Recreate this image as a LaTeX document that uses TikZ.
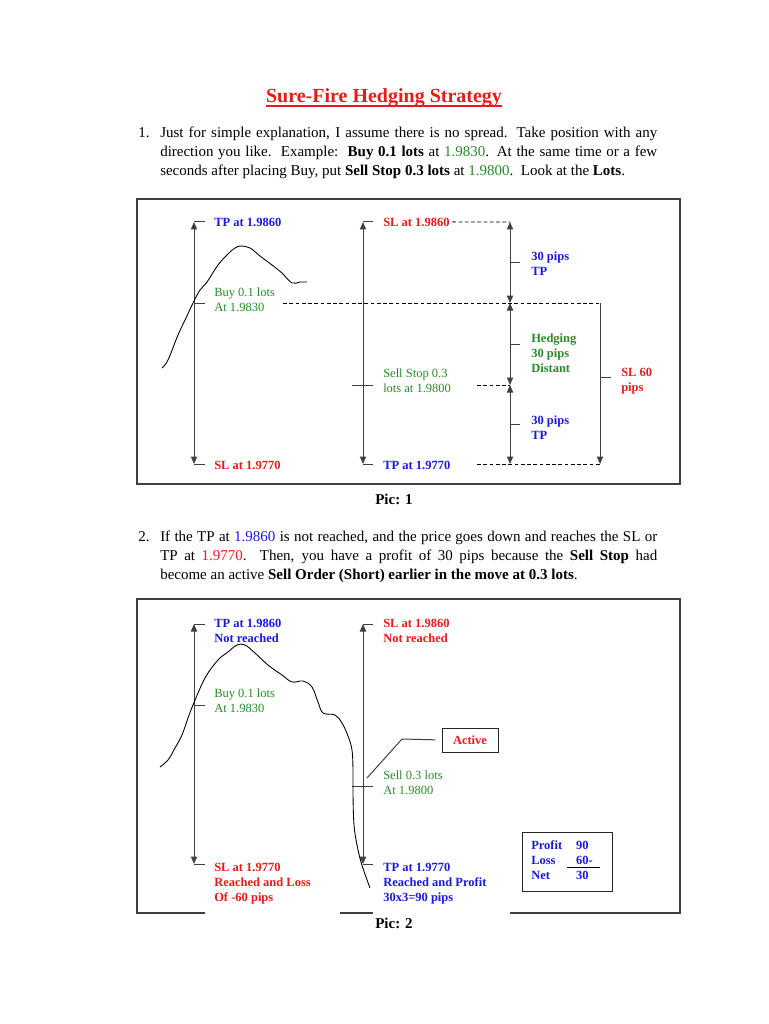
\documentclass[tikz,border=0pt]{standalone}
\usepackage{fontspec}
\setmainfont{Liberation Serif}
\usetikzlibrary{arrows.meta, calc, positioning}
\definecolor{tpblue}{RGB}{25,25,225}
\definecolor{slred}{RGB}{235,25,25}
\definecolor{lotgreen}{RGB}{40,140,40}
\tikzset{
	txt/.style={inner sep=0pt, anchor=base west},
	lbl/.style={txt, align=flush left, font=\fontsize{10}{12}\selectfont\bfseries},
	stack/.style={text width=100pt},
	tplbl/.style={lbl, text=tpblue},
	sllbl/.style={lbl, text=slred},
	hedgelbl/.style={lbl, text=lotgreen},
	lotlbl/.style={txt, align=flush left, text=lotgreen, font=\fontsize{10}{12}\selectfont},
	para/.style={txt, text width=397.6pt, align=justify, font=\fontsize{12}{15.2}\selectfont},
	pipspan/.style={line width=0.8pt, draw=black!75, {Triangle[length=6pt,width=5pt]}-{Triangle[length=6pt,width=5pt]}},
	downspan/.style={line width=0.8pt, draw=black!75, -{Triangle[length=6pt,width=5pt]}},
	tickline/.style={line width=0.8pt, draw=black!75},
	guide/.style={line width=0.7pt, dash pattern=on 3pt off 2pt},
	picframe/.style={line width=1pt, draw=black!75},
	price/.style={line width=0.7pt}
}

\begin{document}
\begin{tikzpicture}[x=0.8pt, y=-0.8pt]
	\useasboundingbox (0,0) rectangle (768,1024);
	\fill[white] (0,0) rectangle (768,1024);

	% --- Title and point 1 ---
	\node[txt, anchor=base, font=\fontsize{16}{19}\selectfont\bfseries, text=slred] (title) at (384,103) {Sure-Fire Hedging Strategy};
	\draw[slred, line width=1pt] ([yshift=-2.4pt]title.base west) -- ([yshift=-2.4pt]title.base east);

	\node[txt, font=\fontsize{12}{15.2}\selectfont] (num1) at (138,138) {1.};
	\node[para] (para1) at (160,138) {Just for simple explanation, I assume there is no spread. Take position with any\linebreak direction you like.\ \ Example:\ \ \textbf{Buy 0.1 lots} at \textcolor{lotgreen}{1.9830}. At the same time or a few\linebreak seconds after placing Buy, put \textbf{Sell Stop 0.3 lots} at \textcolor{lotgreen}{1.9800}.\ \ Look at the \textbf{Lots}.};

	% --- Pic 1 ---
	\begin{scope}
		\draw[picframe] (137,199) rectangle (680,484);
		\node[txt, anchor=base, font=\fontsize{12}{14}\selectfont\bfseries] (pic1) at (394,504) {Pic: 1};

		% Buy order
		\coordinate (buyTop) at (194,222);
		\coordinate (buyAt) at (194,303);
		\coordinate (buyBot) at (194,464);
		\draw[pipspan] (buyTop) -- (buyBot);
		\foreach \c in {buyTop, buyAt, buyBot} \draw[tickline] (\c) -- ++(11,0);
		\node[tplbl] (buyTP) at (214,226) {TP at 1.9860};
		\node[sllbl] (buySL) at (214,469) {SL at 1.9770};
		\node[lotlbl, stack] (buyNote) at (214,296) {Buy 0.1 lots\\At 1.9830};

		% Sell stop
		\coordinate (sellTop) at (363,222);
		\coordinate (sellAt) at (352,385);
		\coordinate (sellBot) at (363,464);
		\draw[pipspan] (sellTop) -- (sellBot);
		\foreach \c in {sellTop, sellBot} \draw[tickline] (\c) -- ++(10,0);
		\draw[tickline] (sellAt) -- ++(21,0);
		\node[sllbl] (sellSL) at (383,226) {SL at 1.9860};
		\node[tplbl] (sellTP) at (383,469) {TP at 1.9770};
		\node[lotlbl, stack] (sellNote) at (383,377) {Sell Stop 0.3\\lots at 1.9800};

		% Pips between the levels
		\coordinate (hTop) at (510,222);
		\coordinate (hBuy) at (510,303);
		\coordinate (hSell) at (510,385);
		\coordinate (hBot) at (510,464);
		\foreach \a/\b in {hTop/hBuy, hBuy/hSell, hSell/hBot} {
			\draw[pipspan] (\a) -- (\b);
			\draw[tickline] ($(\a)!0.5!(\b)$) -- ++(10,0);
		}
		\node[tplbl, stack] (tpUp) at (531,261) {30 pips\\TP};
		\node[hedgelbl, stack] (hedgeGap) at (531,342) {Hedging\\30 pips\\Distant};
		\node[tplbl, stack] (tpDown) at (531,424) {30 pips\\TP};

		\coordinate (slTop) at (600,303);
		\coordinate (slBot) at (600,464);
		\draw[downspan] (slTop) -- (slBot);
		\draw[tickline] (600,377) -- ++(11,0);
		\node[sllbl, stack] (sl60) at (621,376) {SL 60\\pips};

		% Dashed levels
		\coordinate (buyDash) at (283,303);
		\coordinate (sellDash) at (477,385);
		\coordinate (tpDash) at (477,464);
		\draw[guide, shorten <=2pt] (sellSL.east) -- (hTop);
		\draw[guide] (buyDash) -- (slTop);
		\draw[guide] (sellDash) -- (hSell);
		\draw[guide] (tpDash) -- (slBot);

		% Price
		\draw[price] plot[smooth, tension=0.6] coordinates {(162,368) (168,360) (178,335) (186,318) (193,303) (200,290) (207,282) (218,265) (228,254) (235,248) (241,246) (250,248) (260,256) (268,262) (276,268) (282,273) (292,283) (300,282) (307,282)};
	\end{scope}

	% --- Point 2 ---
	\node[txt, font=\fontsize{12}{15.2}\selectfont] (num2) at (138,541) {2.};
	\node[para] (para2) at (160,541) {If the TP at \textcolor{tpblue}{1.9860} is not reached, and the price goes down and reaches the SL or\linebreak TP at \textcolor{slred}{1.9770}.\ \ Then, you have a profit of 30 pips because the \textbf{Sell Stop} had\linebreak become an active \textbf{Sell Order (Short) earlier in the move at 0.3 lots}.};

	% --- Pic 2 ---
	\begin{scope}
		\draw[picframe] (205,913) -- (137,913) -- (137,599) -- (680,599) -- (680,913) -- (510,913);
		\draw[picframe] (340,913) -- (373,913);
		\node[txt, anchor=base, font=\fontsize{12}{14}\selectfont\bfseries] (pic2) at (394,928) {Pic: 2};

		% Buy order
		\coordinate (buyTop2) at (194,624);
		\coordinate (buyAt2) at (194,705);
		\coordinate (buyBot2) at (194,864);
		\draw[pipspan] (buyTop2) -- (buyBot2);
		\foreach \c in {buyTop2, buyAt2, buyBot2} \draw[tickline] (\c) -- ++(11,0);
		\node[tplbl, stack] (buyTP2) at (214,627) {TP at 1.9860\\Not reached};
		\node[lotlbl, stack] (buyNote2) at (214,697) {Buy 0.1 lots\\At 1.9830};
		\node[sllbl, stack] (buySL2) at (214,871) {SL at 1.9770\\Reached and Loss\\Of -60 pips};

		% Sell order
		\coordinate (sellTop2) at (363,624);
		\coordinate (sellAt2) at (352,786);
		\coordinate (sellBot2) at (363,864);
		\draw[pipspan] (sellTop2) -- (sellBot2);
		\foreach \c in {sellTop2, sellBot2} \draw[tickline] (\c) -- ++(10,0);
		\draw[tickline] (sellAt2) -- ++(21,0);
		\node[sllbl, stack] (sellSL2) at (383,627) {SL at 1.9860\\Not reached};
		\node[lotlbl, stack] (sellNote2) at (383,779) {Sell 0.3 lots\\At 1.9800};
		\node[tplbl, stack] (sellTP2) at (383,871) {TP at 1.9770\\Reached and Profit\\30x3=90 pips};

		% Active
		\node[sllbl, anchor=center, draw=black!85, line width=0.8pt, minimum width=44.8pt, minimum height=19.2pt] (active) at (470,740) {Active};
		\coordinate (activeBend) at (402,739);
		\coordinate (activeTip) at (367,778);
		\draw[tickline, shorten <=5pt] (active.west) -- (activeBend) -- (activeTip);

		% Result
		\draw[line width=0.8pt, draw=black!85] (522,832) rectangle (612,891);
		\node[tplbl] (tally) at (531,849) {\begin{tabular}[t]{@{}l@{\hspace{11pt}}l@{}}Profit & 90\\ Loss & 60-\\ Net & 30\end{tabular}};
		\draw[line width=0.8pt] (567,867) -- (600,867);

		% Price
		\draw[price] plot[smooth, tension=0.6] coordinates {(160,767) (168,760) (175,748) (182,735) (188,718) (193,705) (205,678) (218,660) (228,652) (237,645) (245,645) (255,653) (268,665) (282,675) (292,682) (303,681) (312,687) (318,702) (323,713) (335,715) (342,723) (348,736) (352,750) (353,770) (353,795) (354,825) (357,845) (361,862) (366,877) (370,888)};
	\end{scope}
\end{tikzpicture}
\end{document}
